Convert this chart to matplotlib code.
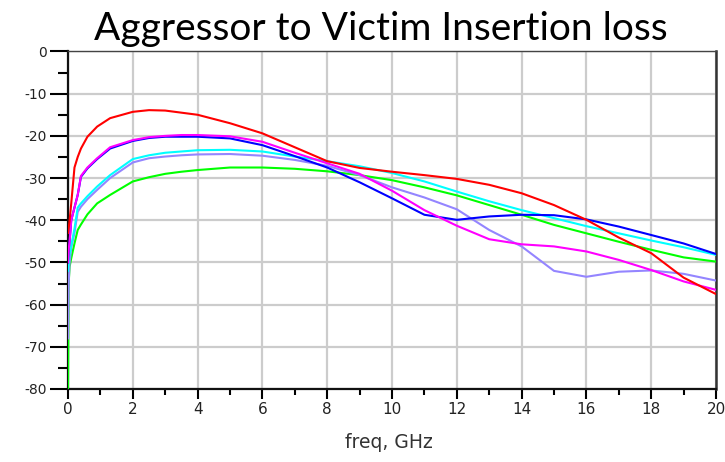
import matplotlib
matplotlib.use("Agg")
import matplotlib.pyplot as plt
from matplotlib.ticker import MultipleLocator

plt.rcParams['axes.unicode_minus'] = False

# frequency points (GHz)
freq = [0, 0.02, 0.05, 0.1, 0.2, 0.3, 0.4, 0.6, 0.9, 1.3, 2, 2.5, 3, 3.5, 4,
        5, 6, 7, 8, 9, 10, 11, 12, 13, 14, 15, 16, 17, 18, 19, 20]

# insertion loss curves (dB)
red = [-43, -42, -40, -36, -27.5, -25, -23, -20.2, -17.8, -15.8, -14.3, -13.9, -14, -14.5, -15,
       -17, -19.4, -22.7, -26, -27.6, -28.5, -29.3, -30.2, -31.6, -33.6, -36.4, -39.9, -44.1, -47.8, -53.6, -57.5]
magenta = [-50, -47, -45, -40, -37, -34, -29.5, -27.5, -25.3, -22.7, -21, -20.3, -20, -19.8, -19.8,
           -20.1, -21.4, -24, -26.5, -29, -33, -37.6, -41.3, -44.5, -45.7, -46.2, -47.4, -49.4, -51.8, -54.5, -56.5]
blue = [-50, -47, -45, -40, -37, -34, -29.7, -27.7, -25.5, -23, -21.2, -20.5, -20.2, -20.2, -20.2,
        -20.6, -22.2, -24.8, -27.5, -31, -34.8, -38.7, -39.9, -39.1, -38.7, -38.8, -39.8, -41.5, -43.5, -45.5, -48]
cyan = [-52, -50, -48, -46, -42, -37, -36, -34.3, -32, -29.3, -25.5, -24.6, -24, -23.7, -23.4,
        -23.3, -23.7, -24.9, -26, -27.2, -28.8, -30.8, -33.2, -35.5, -37.6, -39.5, -41.4, -43.1, -44.8, -46.4, -48.2]
lavender = [-68, -55, -50, -46.5, -43, -38, -36.8, -35, -32.8, -30, -26.3, -25.3, -24.9, -24.6, -24.4,
            -24.3, -24.7, -25.7, -27.1, -29.3, -32.2, -34.6, -37.4, -42.3, -46.2, -52, -53.4, -52.2, -51.9, -52.7, -54.3]
green = [-80, -55, -51, -49, -45.5, -42.3, -41, -38.6, -36, -34, -30.8, -29.8, -29, -28.5, -28.1,
         -27.5, -27.5, -27.8, -28.4, -29.3, -30.5, -32.2, -34.1, -36.4, -38.7, -41.1, -43.1, -45.1, -47, -48.8, -49.8]

fig = plt.figure(figsize=(7.25, 4.62), dpi=100)
ax = fig.add_axes([68/725, 1-389/462, (716-68)/725, (389-51.5)/462])

# draw curves above the spines so the vertical drop at 0 GHz stays visible
ax.plot(freq, green, color='#00ff00', lw=1.5, zorder=3)
ax.plot(freq, lavender, color='#9485ff', lw=1.5, zorder=3)
ax.plot(freq, cyan, color='#00ffff', lw=1.5, zorder=3)
ax.plot(freq, blue, color='#0000ff', lw=1.5, zorder=3)
ax.plot(freq, magenta, color='#ff00ff', lw=1.5, zorder=3)
ax.plot(freq, red, color='#ff0000', lw=1.5, zorder=3)

ax.set_xlim(0, 20)
ax.set_ylim(-80, 0)
ax.xaxis.set_major_locator(MultipleLocator(2))
ax.xaxis.set_minor_locator(MultipleLocator(1))
ax.yaxis.set_major_locator(MultipleLocator(10))
ax.yaxis.set_minor_locator(MultipleLocator(5))
ax.grid(True, which='major', color='#cccccc', lw=1.6)
ax.set_axisbelow(True)

ax.tick_params(axis='y', which='major', direction='out', length=13, width=1.5, pad=2, labelsize=10)
ax.tick_params(axis='y', which='minor', direction='out', length=7, width=1.5)
ax.tick_params(axis='x', which='major', direction='out', length=7.5, width=1.5, pad=2, labelsize=11)
ax.tick_params(axis='x', which='minor', direction='out', length=4.5, width=1.5)
for lab in ax.get_xticklabels() + ax.get_yticklabels():
    lab.set_family('DejaVu Sans')
    lab.set_color('#222222')

for s in ['left', 'bottom']:
    ax.spines[s].set_linewidth(1.6)
    ax.spines[s].set_color('#111111')
ax.spines['right'].set_linewidth(1.8)
ax.spines['right'].set_color('#333333')
ax.spines['top'].set_linewidth(1.0)
ax.spines['top'].set_color('#444444')

fig.text(381/725, 1-40/462, 'Aggressor to Victim Insertion loss', ha='center', va='baseline',
         fontsize=28, family='Lato')
fig.text(389/725, 1-442/462, 'freq, GHz', ha='center', va='center', fontsize=13.5,
         family='DejaVu Sans', color='#333333')

fig.savefig('out.png', dpi=100)
